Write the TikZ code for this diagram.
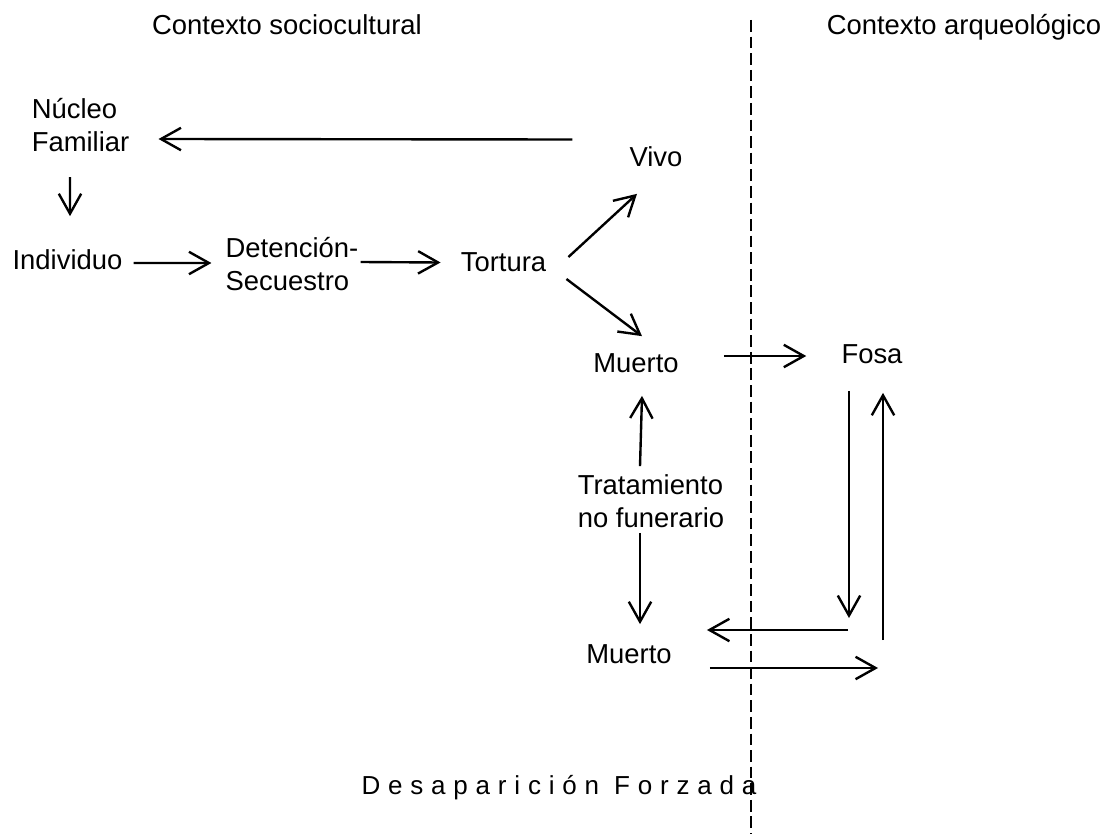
\documentclass[tikz,border=0pt]{standalone}
\usepackage{fontspec}
\setmainfont{Liberation Sans}
\newfontfamily\spacedfont[LetterSpace=30]{Liberation Sans}
\usetikzlibrary{arrows.meta}

\begin{document}
\begin{tikzpicture}[x=0.025cm,y=-0.025cm]
        % Styles
        \tikzstyle{word}=[inner sep=0pt,align=left,font=\fontsize{19.5}{23.5}\selectfont]
        \tikzstyle{flow}=[line width=1.7pt,-{Straight Barb[length=0.5cm,width=0.56cm]}]
        \tikzstyle{border}=[line width=1.6pt,dash pattern=on 8.3pt off 3.5pt]
        \useasboundingbox (0,0) rectangle (1110,834);
        %contexts
        \node[word] (socio) at (287,25) {Contexto sociocultural};
        \node[word] (arqueo) at (964,27) {Contexto arqueológico};
        \draw[border] (751,20) coordinate (limit top) -- (751,834) coordinate (limit bottom);
        %nodes
        \node[word] (nucleo) at (80.5,125) {Núcleo\\Familiar};
        \node[word] (individuo) at (67.5,259.5) {Individuo};
        \node[word] (detencion) at (292,264) {Detención-\\Secuestro};
        \node[word] (tortura) at (503.5,262.5) {Tortura};
        \node[word] (vivo) at (656,156.5) {Vivo};
        \node[word] (muerto1) at (636,363) {Muerto};
        \node[word] (fosa) at (872,354) {Fosa};
        \node[word] (tratamiento) at (651,501) {Tratamiento\\no funerario};
        \node[word] (muerto2) at (629,654) {Muerto};
        \node[inner sep=0pt,font=\fontsize{18.5}{21}\spacedfont] (titulo) at (559,788) {Desaparición Forzada};
        \coordinate (pit down) at (849,618);
        \coordinate (pit left) at (848,630);
        \coordinate (pit right) at (878,668);
        \coordinate (pit up) at (883,640);
        %arrows
        \draw[flow] ([shift={(-57,-17)}]vivo.west) -- ([shift={(29,14)}]nucleo.east);
        \draw[flow] ([shift={(-10.5,25)}]nucleo.south) -- ([shift={(2.5,-33)}]individuo.north);
        \draw[flow] ([shift={(11,3.5)}]individuo.east) -- ([shift={(-14,-1)}]detencion.west);
        \draw[flow] ([shift={(2,-2)}]detencion.east) -- ([shift={(-20,0)}]tortura.west);
        \draw[flow] ([shift={(22,-5.5)}]tortura.east) -- ([shift={(-19,27)}]vivo.south);
        \draw[flow] ([shift={(20,16.5)}]tortura.east) -- ([shift={(6,-17)}]muerto1.north);
        \draw[flow] ([shift={(45,-7)}]muerto1.east) -- ([shift={(-35,2)}]fosa.west);
        \draw[flow] ([shift={(-11,-8)}]tratamiento.north) -- ([shift={(6,23)}]muerto1.south);
        \draw[flow] ([shift={(-11,5)}]tratamiento.south) -- ([shift={(11,-20)}]muerto2.north);
        \draw[flow] ([shift={(-23,27)}]fosa.south) -- (pit down);
        \draw[flow] (pit left) -- ([shift={(35,-24)}]muerto2.east);
        \draw[flow] ([shift={(38,14)}]muerto2.east) -- (pit right);
        \draw[flow] (pit up) -- ([shift={(11,29)}]fosa.south);
\end{tikzpicture}
\end{document}
